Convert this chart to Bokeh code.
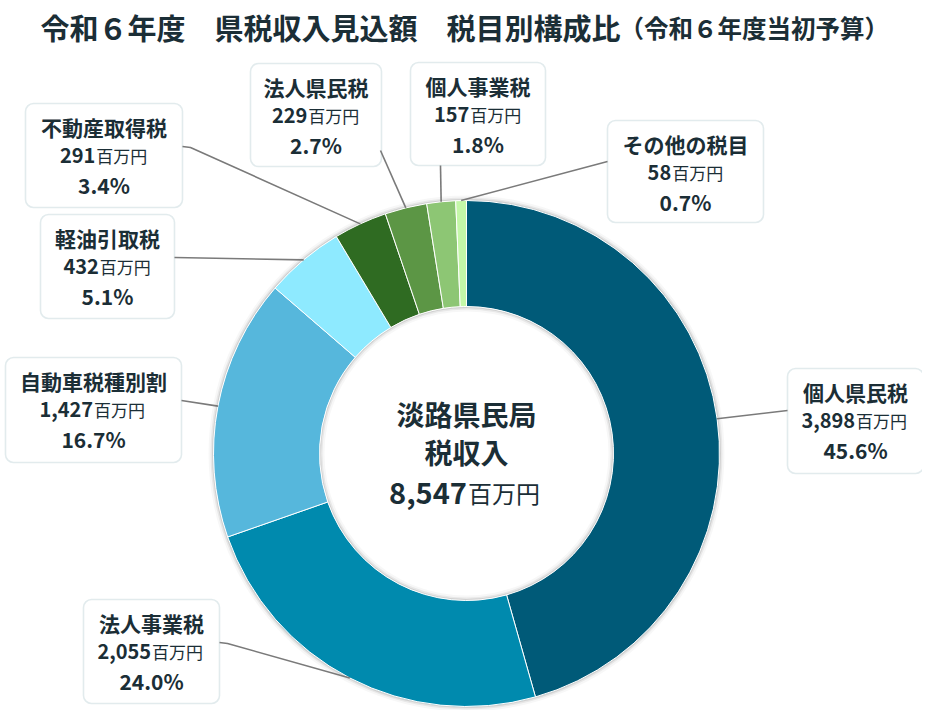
import math
from bokeh.plotting import figure
from bokeh.models import Range1d, BoxAnnotation
from bokeh.core.properties import value
from bokeh.embed import file_html
from bokeh.resources import INLINE

# ---------------- data ----------------
names = ["個人県民税", "法人事業税", "自動車税種別割", "軽油引取税",
         "不動産取得税", "法人県民税", "個人事業税", "その他の税目"]
values = [3898, 2055, 1427, 432, 291, 229, 157, 58]
amount_labels = ["3,898", "2,055", "1,427", "432", "291", "229", "157", "58"]
pct_labels = ["45.6%", "24.0%", "16.7%", "5.1%", "3.4%", "2.7%", "1.8%", "0.7%"]
colors = ["#005a78", "#008aae", "#56b7dc", "#8eeaff",
          "#2f6b22", "#5c9645", "#8dc674", "#c4f7a8"]
unit = "百万円"
title = "令和６年度　県税収入見込額　税目別構成比"
subtitle = "（令和６年度当初予算）"
center_lines = ["淡路県民局", "税収入"]
total_label = "8,547"

# ---------------- layout (picture pixel coords) ----------------
W, H = 922, 710
def Y(py):
    return H - py

CX, CY = 466, 453
R_OUT, R_IN = 253, 147
# box: left, top, right, bottom
boxes = [
    (787, 368, 923, 473),
    (83, 599, 219, 703),
    (5, 357, 181, 462),
    (40, 214, 174, 318),
    (25, 103, 182, 207),
    (250, 63, 381, 166),
    (410, 62, 545, 165),
    (607, 120, 763, 222),
]
# leader points starting at the box side; the slice end is computed
leaders = [
    [(787, 410)],
    [(219, 642), (227, 643)],
    [(181, 400)],
    [(174, 257)],
    [(182, 146), (190, 147)],
    [(380, 150)],
    [(440, 165)],
    [(607, 161)],
]

TXT = "#1b2e36"
FONT = "Noto Sans CJK JP"

p = figure(width=W, height=H, x_range=Range1d(0, W), y_range=Range1d(0, H),
           output_backend="svg", toolbar_location=None, min_border=0,
           x_axis_location=None, y_axis_location=None)
p.grid.visible = False
p.outline_line_color = None
p.background_fill_color = "white"
p.border_fill_color = "white"

total = sum(values)
cum = [0]
for v in values:
    cum.append(cum[-1] + v)
starts = [math.pi / 2 - 2 * math.pi * cum[i + 1] / total for i in range(len(values))]
ends = [math.pi / 2 - 2 * math.pi * cum[i] / total for i in range(len(values))]
mids = [math.pi / 2 - 2 * math.pi * (cum[i] + values[i] / 2) / total for i in range(len(values))]

# soft shadow
for dr, a in [(1.5, 0.10), (3.0, 0.06), (5.0, 0.03)]:
    p.annulus(x=CX, y=Y(CY), inner_radius=R_OUT, outer_radius=R_OUT + dr,
              fill_color="black", fill_alpha=a, line_color=None)
    p.annulus(x=CX, y=Y(CY), inner_radius=R_IN - dr, outer_radius=R_IN,
              fill_color="black", fill_alpha=a, line_color=None)

p.annular_wedge(x=CX, y=Y(CY), inner_radius=R_IN, outer_radius=R_OUT,
                start_angle=starts, end_angle=ends, direction="anticlock",
                fill_color=colors, line_color="white", line_width=1)

# leader lines
for i in range(len(values)):
    xs = [pt[0] for pt in leaders[i]]
    ys = [Y(pt[1]) for pt in leaders[i]]
    xs.append(CX + R_OUT * math.cos(mids[i]))
    ys.append(Y(CY) + R_OUT * math.sin(mids[i]))
    p.line(xs, ys, line_color="#7a7a7a", line_width=1.6)

def text_width(s, size):
    w = 0
    for ch in s:
        if ch.isdigit():
            w += 0.56 * size
        elif ch in ",.":
            w += 0.27 * size
        elif ch == "%":
            w += 0.85 * size
        else:
            w += 1.0 * size
    return w

def txt(x, y, s, size, style="bold", align="center"):
    p.text(x=[x], y=[y], text=[s], text_align=align, text_baseline="middle",
           text_font=value(FONT), text_font_size=f"{size}px",
           text_font_style=style, text_color=TXT)

def num_unit(cx, y, num, nsize, usize):
    wn = text_width(num, nsize)
    wu = text_width(unit, usize)
    left = cx - (wn + wu) / 2
    txt(left + wn, y, num, nsize, "bold", "right")
    txt(left + wn + 1, y, unit, usize, "normal", "left")

# boxes + labels
for i in range(len(values)):
    l, t, r, b = boxes[i]
    p.add_layout(BoxAnnotation(left=l, right=r, top=Y(t), bottom=Y(b),
                               fill_color="white", fill_alpha=1.0,
                               line_color="#9fbcc4", line_width=1.6,
                               border_radius=8, level="underlay"))
    bx = (l + r) / 2
    txt(bx, Y(t + 23), names[i], 21, "bold")
    num_unit(bx, Y(t + 52), amount_labels[i], 20, 17)
    txt(bx, Y(t + 81), pct_labels[i], 21, "bold")

# center text
txt(CX, Y(413), center_lines[0], 28, "bold")
txt(CX, Y(451), center_lines[1], 28, "bold")
num_unit(CX, Y(492), total_label, 29, 24)

# title
txt(40, Y(26), title, 29, "bold", "left")
txt(619, Y(27), subtitle, 24.5, "bold", "left")

open("out.html", "w").write(file_html(p, INLINE))
